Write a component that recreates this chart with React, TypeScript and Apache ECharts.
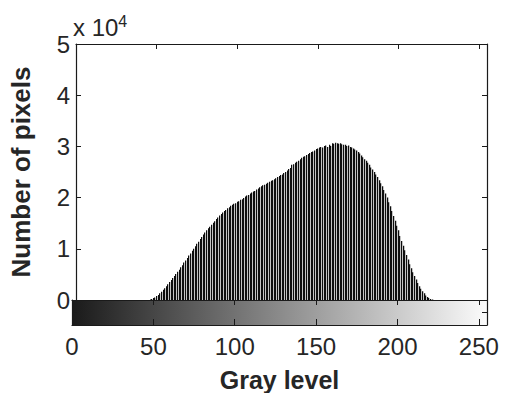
import React, { useEffect, useRef } from "react";
import * as echarts from "echarts";

// Gray levels 0..255 (x categories)
const grayLevels: number[] = [];
for (let g = 0; g <= 255; g++) grayLevels.push(g);

// Pixel counts per gray level (rows of 16 levels)
const pixelCounts: number[] = [
  // 0-15
  0, 0, 0, 0, 0, 0, 0, 0, 0, 0, 0, 0, 0, 0, 0, 0,
  // 16-31
  0, 0, 0, 0, 0, 0, 0, 0, 0, 0, 0, 0, 0, 0, 0, 0,
  // 32-47
  0, 0, 0, 0, 0, 0, 0, 0, 0, 0, 0, 0, 0, 0, 100, 200,
  // 48-63
  400, 500, 800, 1000, 1300, 1600, 2000, 2300, 2700, 3100, 3500, 3900, 4300, 4700, 5100, 5500,
  // 64-79
  5900, 6400, 6800, 7300, 7700, 8200, 8700, 9100, 9600, 10000, 10500, 11000, 11400, 11900, 12300, 12800,
  // 80-95
  13200, 13600, 14000, 14300, 14700, 15100, 15400, 15800, 16100, 16500, 16800, 17100, 17400, 17600, 17900, 18100,
  // 96-111
  18400, 18600, 18800, 18900, 19200, 19300, 19600, 19700, 19900, 20200, 20400, 20500, 20800, 21000, 21200, 21300,
  // 112-127
  21600, 21800, 22000, 22200, 22400, 22500, 22700, 22900, 23100, 23300, 23400, 23600, 23800, 24000, 24200, 24400,
  // 128-143
  24500, 24800, 25000, 25300, 25600, 25800, 26400, 26500, 26800, 27000, 27200, 27500, 27800, 28000, 28100, 28300,
  // 144-159
  28500, 28700, 28900, 29000, 29200, 29500, 29600, 29800, 29900, 29800, 30100, 30200, 29900, 30300, 30100, 30600,
  // 160-175
  30500, 30700, 30600, 30500, 30600, 30400, 30300, 30300, 30100, 30200, 29900, 29800, 29600, 29400, 29200, 28900,
  // 176-191
  28600, 28200, 27900, 27500, 27200, 26800, 26400, 25900, 25500, 25000, 24500, 24000, 23400, 22800, 22200, 21500,
  // 192-207
  20800, 20000, 19100, 18300, 17400, 16400, 15500, 14500, 13600, 12500, 11500, 10600, 9700, 8800, 7900, 7000,
  // 208-223
  6200, 5400, 4700, 4000, 3300, 2700, 2200, 1700, 1300, 900, 600, 400, 200, 100, 0, 0,
  // 224-239
  0, 0, 0, 0, 0, 0, 0, 0, 0, 0, 0, 0, 0, 0, 0, 0,
  // 240-255
  0, 0, 0, 0, 0, 0, 0, 0, 0, 0, 0, 0, 0, 0, 0, 0,
];

const xTicks = [0, 50, 100, 150, 200, 250];
const yTicksE4 = [0, 1, 2, 3, 4, 5];
const colorbarRange = [0, 255];

const FONT = "Liberation Sans, Arial, Helvetica, sans-serif";
const TXT = "#262626";
const LINE = "#1a1a1a";

export default function App() {
  const ref = useRef<HTMLDivElement>(null);

  useEffect(() => {
    document.body.style.margin = "0";
    if (!ref.current) return;
    const chart = echarts.init(ref.current, null, { renderer: "svg" });

    const baseAxisLine = { show: true, onZero: false, lineStyle: { color: LINE, width: 1.2 } };
    const xCommon = {
      type: "value" as const,
      min: xTicks[0],
      max: 255,
      interval: 50,
      splitLine: { show: false },
      axisLine: baseAxisLine,
      z: 5,
    };

    const option: any = {
      animation: false,
      backgroundColor: "#ffffff",
      title: {
        text: "x 10{sup|4}",
        left: 73,
        top: 13,
        padding: 0,
        textStyle: {
          fontFamily: FONT,
          fontSize: 24,
          fontWeight: "normal",
          color: TXT,
          rich: {
            sup: { fontFamily: FONT, fontSize: 16, color: TXT, padding: [0, 0, 13, 0] },
          },
        },
      },
      grid: [
        { left: 72, right: 20, top: 44, height: 256 },
        { left: 72, right: 20, top: 300, height: 25 },
      ],
      xAxis: [
        {
          ...xCommon,
          gridIndex: 0,
          position: "bottom",
          axisTick: { show: false },
          axisLabel: { show: false },
        },
        {
          ...xCommon,
          gridIndex: 0,
          position: "top",
          axisTick: { show: true, inside: true, length: 5, lineStyle: { color: LINE } },
          axisLabel: { show: false },
        },
        {
          ...xCommon,
          gridIndex: 1,
          position: "bottom",
          axisTick: { show: true, inside: true, length: 6, lineStyle: { color: LINE } },
          axisLabel: {
            show: true,
            margin: 9,
            fontFamily: FONT,
            fontSize: 24,
            color: TXT,
            customValues: xTicks,
          },
          name: "Gray level",
          nameLocation: "middle",
          nameGap: 42,
          nameTextStyle: { fontFamily: FONT, fontSize: 25, fontWeight: "bold", color: TXT },
        },
        {
          ...xCommon,
          gridIndex: 1,
          position: "top",
          axisTick: { show: true, inside: true, length: 5, lineStyle: { color: LINE } },
          axisLabel: { show: false },
        },
      ],
      yAxis: [
        {
          type: "value",
          gridIndex: 0,
          position: "left",
          min: 0,
          max: 50000,
          interval: 10000,
          splitLine: { show: false },
          axisLine: baseAxisLine,
          axisTick: { show: true, inside: true, length: 5, lineStyle: { color: LINE } },
          axisLabel: {
            margin: 6,
            fontFamily: FONT,
            fontSize: 24,
            color: TXT,
            formatter: (v: number) => String(yTicksE4[Math.round(v / 10000)]),
          },
          name: "Number of pixels",
          nameLocation: "middle",
          nameGap: 42,
          nameTextStyle: { fontFamily: FONT, fontSize: 26, fontWeight: "bold", color: TXT },
          z: 5,
        },
        {
          type: "value",
          gridIndex: 0,
          position: "right",
          min: 0,
          max: 50000,
          interval: 10000,
          splitLine: { show: false },
          axisLine: baseAxisLine,
          axisTick: { show: true, inside: true, length: 5, lineStyle: { color: LINE } },
          axisLabel: { show: false },
          z: 5,
        },
        {
          type: "value",
          gridIndex: 1,
          position: "left",
          min: 0,
          max: 1,
          interval: 0.5,
          splitLine: { show: false },
          axisLine: baseAxisLine,
          axisTick: { show: true, inside: true, length: 5, lineStyle: { color: LINE } },
          axisLabel: { show: false },
          z: 5,
        },
        {
          type: "value",
          gridIndex: 1,
          position: "right",
          min: 0,
          max: 1,
          interval: 0.5,
          splitLine: { show: false },
          axisLine: baseAxisLine,
          axisTick: { show: true, inside: true, length: 5, lineStyle: { color: LINE } },
          axisLabel: { show: false },
          z: 5,
        },
      ],
      series: [
        {
          type: "custom",
          name: "histogram",
          xAxisIndex: 0,
          yAxisIndex: 0,
          z: 1,
          data: grayLevels.map((g, i) => [g, pixelCounts[i]]),
          renderItem: (params: any, api: any) => {
            const v = api.value(1);
            if (!v) return null;
            const top = api.coord([api.value(0), v]);
            const base = api.coord([api.value(0), 0]);
            return {
              type: "rect",
              shape: { x: Math.floor(top[0]), y: top[1], width: 1.25, height: base[1] - top[1] },
              style: { fill: "#0d0d0d" },
            };
          },
        },
        {
          type: "custom",
          name: "colorbar",
          xAxisIndex: 2,
          yAxisIndex: 2,
          z: 1,
          data: [[colorbarRange[0], colorbarRange[1]]],
          renderItem: (params: any, api: any) => {
            const p0 = api.coord([api.value(0), 1]);
            const p1 = api.coord([api.value(1), 0]);
            return {
              type: "rect",
              shape: { x: p0[0], y: p0[1], width: p1[0] - p0[0], height: p1[1] - p0[1] },
              style: {
                fill: new echarts.graphic.LinearGradient(0, 0, 1, 0, [
                  { offset: 0, color: "#1a1a1a" },
                  { offset: 1, color: "#fbfbfb" },
                ]),
              },
            };
          },
        },
      ],
    };

    chart.setOption(option);
    return () => chart.dispose();
  }, []);

  return <div ref={ref} style={{ width: 507, height: 393 }} />;
}
